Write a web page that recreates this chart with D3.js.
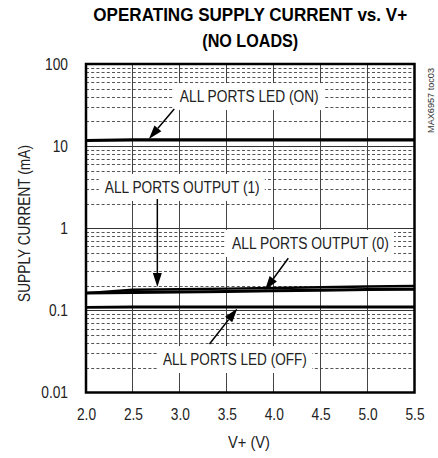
<!DOCTYPE html>
<html>
<head>
<meta charset="utf-8">
<script src="https://cdn.jsdelivr.net/npm/d3@7"></script>
<style>
  html, body { margin: 0; padding: 0; background: #fff; }
  svg { display: block; }
</style>
</head>
<body>
<svg id="chart" width="438" height="458"></svg>
<script>
// ---------- data ----------
const voltages      = [2.0, 2.5, 3.0, 3.5, 4.0, 4.5, 5.0, 5.5];
const ledOn         = [11.7, 11.9, 11.9, 11.9, 11.9, 11.9, 11.9, 11.9];
const output1       = [0.162, 0.178, 0.181, 0.184, 0.187, 0.191, 0.195, 0.198];
const output0       = [0.163, 0.165, 0.167, 0.170, 0.173, 0.176, 0.179, 0.181];
const ledOff        = [0.109, 0.110, 0.110, 0.110, 0.110, 0.110, 0.110, 0.110];
const xTicks        = [2.0, 2.5, 3.0, 3.5, 4.0, 4.5, 5.0, 5.5];
const yTicks        = [0.01, 0.1, 1, 10, 100];
const yTickLabels   = ["0.01", "0.1", "1", "10", "100"];
const titleLines    = ["OPERATING SUPPLY CURRENT vs. V+", "(NO LOADS)"];
const xAxisTitle    = "V+ (V)";
const yAxisTitle    = "SUPPLY CURRENT (mA)";
const codeLabel     = "MAX6957 toc03";
// annotations: label start (x, baseline y) and arrow from -> tip, in data units
const annotLabels   = ["ALL PORTS LED (ON)", "ALL PORTS OUTPUT (1)", "ALL PORTS OUTPUT (0)", "ALL PORTS LED (OFF)"];
const annotTextPos  = [[3.00, 34.4], [2.20, 2.69], [3.555, 0.559], [2.82, 0.0216]];
const annotArrowFrom= [[2.94, 28.3], [2.76, 2.27], [4.155, 0.4305], [3.316, 0.039]];
const annotArrowTip = [[2.67, 12.2], [2.76, 0.193], [3.907, 0.177], [3.612, 0.1054]];
const annotWidths   = [139, 155, 157, 144];

// ---------- layout ----------
const L = 86, R = 414.5, T = 64, B = 392.5;
const FONT = "'Liberation Sans','Arial',sans-serif";

const svg = d3.select("#chart");
const x = d3.scaleLinear().domain([2.0, 5.5]).range([L, R]);
const y = d3.scaleLog().domain([0.01, 100]).range([B, T]);

// condensed text helper: draws text then squeezes it horizontally to a target width
function condText(parent, str, o) {
  const t = parent.append("text")
    .attr("font-family", FONT)
    .attr("font-size", o.size)
    .attr("font-weight", o.weight || "normal")
    .attr("fill", o.fill || "#222")
    .attr("text-anchor", o.anchor || "start")
    .text(str);
  const nat = t.node().getComputedTextLength();
  const sx = o.width ? o.width / nat : (o.sx || 0.85);
  t.attr("transform", `translate(${o.x},${o.y}) rotate(${o.rotate || 0}) scale(${sx},1)`);
  return t;
}

// ---------- grid ----------
const grid = svg.append("g");
const minor = [];
for (let e = -2; e < 2; e++) {
  for (let k = 2; k <= 9; k++) minor.push(k * Math.pow(10, e));
}
grid.selectAll("line.minor").data(minor).enter().append("line")
  .attr("x1", L).attr("x2", R)
  .attr("y1", d => Math.round(y(d)) + 0.5).attr("y2", d => Math.round(y(d)) + 0.5)
  .attr("stroke", "#555").attr("stroke-width", 1)
  .attr("stroke-dasharray", "3,2.2");
grid.selectAll("line.major").data([0.1, 1, 10]).enter().append("line")
  .attr("x1", L).attr("x2", R)
  .attr("y1", d => y(d)).attr("y2", d => y(d))
  .attr("stroke", "#333").attr("stroke-width", 1)
  .attr("shape-rendering", "crispEdges");
grid.selectAll("line.v").data(xTicks.slice(1, -1)).enter().append("line")
  .attr("x1", d => x(d)).attr("x2", d => x(d))
  .attr("y1", T).attr("y2", B)
  .attr("stroke", "#444").attr("stroke-width", 1)
  .attr("shape-rendering", "crispEdges");

// ---------- annotation label boxes + text ----------
const boxG = svg.append("g");
const annG = svg.append("g");
annotLabels.forEach((lab, i) => {
  const tx = x(annotTextPos[i][0]);
  const ty = y(annotTextPos[i][1]);
  boxG.append("rect")
    .attr("x", tx - 6).attr("y", ty - 19)
    .attr("width", annotWidths[i] + 11).attr("height", 27)
    .attr("fill", "#fff");
  condText(annG, lab, { x: tx, y: ty, size: 17, width: annotWidths[i] });
});

// ---------- data lines ----------
const lineGen = vals => d3.line()
  .x((d, i) => x(voltages[i]))
  .y(d => y(d))(vals);
const series = [
  { v: ledOn,   w: 3.2 },
  { v: output0, w: 3.0 },
  { v: output1, w: 2.4 },
  { v: ledOff,  w: 2.8 }
];
svg.append("g").selectAll("path").data(series).enter().append("path")
  .attr("d", d => lineGen(d.v))
  .attr("fill", "none").attr("stroke", "#000")
  .attr("stroke-width", d => d.w);

// ---------- arrows ----------
const arrG = svg.append("g");
annotArrowFrom.forEach((f, i) => {
  const x0 = x(f[0]), y0 = y(f[1]);
  const x1 = x(annotArrowTip[i][0]), y1 = y(annotArrowTip[i][1]);
  const dx = x1 - x0, dy = y1 - y0, len = Math.hypot(dx, dy);
  const ux = dx / len, uy = dy / len;
  const hl = 14, hw = 4.5;
  const bx = x1 - ux * hl, by = y1 - uy * hl;
  arrG.append("line")
    .attr("x1", x0).attr("y1", y0).attr("x2", bx).attr("y2", by)
    .attr("stroke", "#000").attr("stroke-width", 1.5);
  arrG.append("path")
    .attr("d", `M${x1},${y1}L${bx - uy * hw},${by + ux * hw}L${bx + uy * hw},${by - ux * hw}Z`)
    .attr("fill", "#000");
});

// ---------- frame ----------
svg.append("rect")
  .attr("x", L).attr("y", T).attr("width", R - L).attr("height", B - T)
  .attr("fill", "none").attr("stroke", "#000").attr("stroke-width", 2.5);

// ---------- axes ----------
const TSX = 0.86;
const xAxis = d3.axisBottom(x).tickValues(xTicks).tickFormat(d3.format(".1f")).tickSize(0).tickPadding(16);
const xg = svg.append("g").attr("transform", `translate(0,${B})`).call(xAxis);
xg.select(".domain").remove();
xg.selectAll("text").attr("font-family", FONT).attr("font-size", 16).attr("fill", "#222")
  .attr("transform", `scale(${TSX},1)`);

const yAxis = d3.axisLeft(y).tickValues(yTicks)
  .tickFormat((d, i) => yTickLabels[i]).tickSize(0).tickPadding(18);
const yg = svg.append("g").attr("transform", `translate(${L},0)`).call(yAxis);
yg.select(".domain").remove();
yg.selectAll("text").attr("font-family", FONT).attr("font-size", 16).attr("fill", "#222")
  .attr("x", -18 / TSX)
  .attr("transform", `scale(${TSX},1)`);

// ---------- titles ----------
const cx = (L + R) / 2;
condText(svg, titleLines[0], { x: cx, y: 20.5, size: 19, weight: "bold", fill: "#000", anchor: "middle", width: 314 });
condText(svg, titleLines[1], { x: cx, y: 46.5, size: 19, weight: "bold", fill: "#000", anchor: "middle", width: 96 });

condText(svg, xAxisTitle, { x: 249, y: 448, size: 17, anchor: "middle", width: 42 });
condText(svg, yAxisTitle, { x: 30, y: 223.5, size: 17, anchor: "middle", width: 157, rotate: -90 });
condText(svg, codeLabel, { x: 433.5, y: 100.5, size: 8.5, anchor: "middle", width: 65, rotate: -90, fill: "#333" });
</script>
</body>
</html>
